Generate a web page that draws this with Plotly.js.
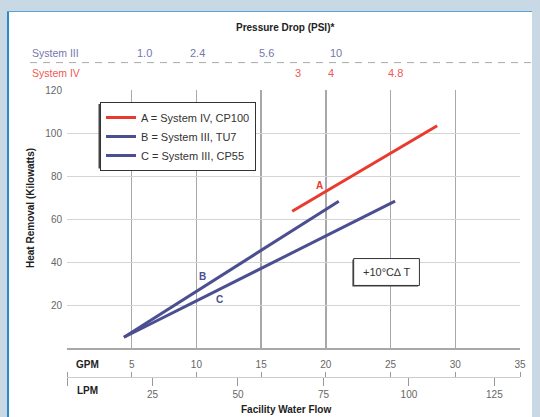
<!DOCTYPE html>
<html>
<head>
<meta charset="utf-8">
<script src="https://cdn.plot.ly/plotly-3.0.1.min.js"></script>
<style>html,body{margin:0;padding:0;background:#c8d8e4;}#chart{width:540px;height:417px;}</style>
</head>
<body>
<div id="chart"></div>
<script>
// ---- data ----
const seriesNames = ["A = System IV, CP100", "B = System III, TU7", "C = System III, CP55"];
const seriesLetters = ["A", "B", "C"];
const aFlowGPM = [17.4, 28.6];
const aHeatKW = [63.6, 103.4];
const bFlowGPM = [4.4, 21.0];
const bHeatKW = [5.0, 68.3];
const cFlowGPM = [4.4, 25.35];
const cHeatKW = [5.0, 68.3];
const gpmTicks = [0, 5, 10, 15, 20, 25, 30, 35];
const lpmTicks = [0, 25, 50, 75, 100, 125];
const heatTicks = [0, 20, 40, 60, 80, 100, 120];
const sys3FlowGPM = [5.96, 10.12, 15.43, 20.77];
const sys3PSI = ["1.0", "2.4", "5.6", "10"];
const sys4FlowGPM = [17.87, 20.4, 25.38];
const sys4PSI = ["3", "4", "4.8"];
const LPM_PER_GPM = 3.78541;

// ---- layout helpers (pixel -> paper) ----
const L = 67, R = 520, T = 90, B = 400;
const W = R - L, H = B - T;
const px = p => (p - L) / W;
const py = p => (B - p) / H;

const FONT = "'Liberation Sans', Arial, sans-serif";
const RED = "#ea3a2e", BLUE = "#4b4f91";
const S3C = "#7478aa", S4C = "#ee5a55";

const traces = [
  {x: aFlowGPM, y: aHeatKW, name: seriesNames[0], mode: "lines", line: {color: RED, width: 3}, xaxis: "x", yaxis: "y"},
  {x: bFlowGPM, y: bHeatKW, name: seriesNames[1], mode: "lines", line: {color: BLUE, width: 3}, xaxis: "x", yaxis: "y"},
  {x: cFlowGPM, y: cHeatKW, name: seriesNames[2], mode: "lines", line: {color: BLUE, width: 3}, xaxis: "x", yaxis: "y"},
  {x: [], y: [], xaxis: "x2", yaxis: "y", showlegend: false, hoverinfo: "skip"},
  {x: [], y: [], xaxis: "x3", yaxis: "y", showlegend: false, hoverinfo: "skip"}
];

const annotations = [];
const bold = (t) => "<b>" + t + "</b>";
function ann(o) { annotations.push(Object.assign({showarrow: false, xanchor: "center", yanchor: "middle"}, o)); }
ann({text: bold("Pressure Drop (PSI)*"), xref: "paper", yref: "paper", x: px(284.5), y: py(27.5), font: {family: FONT, size: 10, color: "#222"}});
ann({text: "System III", xref: "paper", yref: "paper", x: px(30), y: py(52.6), xanchor: "left", font: {family: FONT, size: 10.5, color: S3C}});
ann({text: "System IV", xref: "paper", yref: "paper", x: px(30), y: py(73.4), xanchor: "left", font: {family: FONT, size: 10.5, color: S4C}});
sys3FlowGPM.forEach((f, i) => ann({text: sys3PSI[i], xref: "x", yref: "paper", x: f, y: py(52.6), font: {family: FONT, size: 11, color: S3C}}));
sys4FlowGPM.forEach((f, i) => ann({text: sys4PSI[i], xref: "x", yref: "paper", x: f, y: py(73.4), font: {family: FONT, size: 11, color: S4C}}));
ann({text: bold("Heat Removal (Kilowatts)"), xref: "paper", yref: "paper", x: px(30), y: py(208), textangle: -90, font: {family: FONT, size: 10, color: "#222"}});
ann({text: bold("GPM"), xref: "paper", yref: "paper", x: px(87), y: py(364), font: {family: FONT, size: 10, color: "#222"}});
ann({text: bold("LPM"), xref: "paper", yref: "paper", x: px(87), y: py(390.5), font: {family: FONT, size: 10, color: "#222"}});
ann({text: bold("Facility Water Flow"), xref: "paper", yref: "paper", x: px(285.5), y: py(409.5), font: {family: FONT, size: 10, color: "#222"}});
// series letters next to their lines
const letterX = [19.5, 10.48, 11.77], letterY = [75.7, 33.2, 22.7];
seriesLetters.forEach((s, i) => ann({text: bold(s), xref: "x", yref: "y", x: letterX[i], y: letterY[i], font: {family: FONT, size: 10, color: i === 0 ? RED : BLUE}}));
ann({text: "+10°C∆ T", xref: "x", yref: "y", x: 24.7, y: 35.3, font: {family: FONT, size: 11, color: "#333"}});

const shapes = [
  {type: "rect", xref: "paper", yref: "paper", x0: px(7), x1: px(532), y0: py(425), y1: py(11), fillcolor: "#ffffff", line: {width: 0}, layer: "below"},
  {type: "line", xref: "paper", yref: "paper", x0: px(8), x1: px(8), y0: py(425), y1: py(11), line: {color: "#2a8bc4", width: 2}, layer: "below"},
  {type: "line", xref: "paper", yref: "paper", x0: px(7), x1: px(532), y0: py(11.5), y1: py(11.5), line: {color: "#5aa5d0", width: 1}, layer: "below"},
  {type: "line", xref: "paper", yref: "paper", x0: px(30), x1: px(535), y0: py(62.6), y1: py(62.6), line: {color: "#aaaaaa", width: 1, dash: "7px,6px"}},
  // drop shadow + box for the delta-T note
  {type: "rect", xref: "x", yref: "y", x0: 22.15 - 0.1, x1: 27.23 - 0.1, y0: 29.1 - 0.5, y1: 41.6 - 0.5, fillcolor: "#444", line: {width: 0}},
  {type: "rect", xref: "x", yref: "y", x0: 22.15, x1: 27.23, y0: 29.1, y1: 41.6, fillcolor: "#ffffff", line: {color: "#333", width: 1}},
  // drop shadow behind the legend box
  {type: "rect", xref: "paper", yref: "paper", x0: px(98.5), x1: px(256), y0: py(168.5), y1: py(104), fillcolor: "#444", line: {width: 0}}
];

const yDomBottom = py(348);
const axisPos = py(376.5);

const layout = {
  width: 540, height: 417,
  margin: {l: L, r: 540 - R, t: T, b: 417 - B, pad: 0},
  paper_bgcolor: "#c8d8e4",
  plot_bgcolor: "rgba(0,0,0,0)",
  font: {family: FONT, size: 10, color: "#666"},
  showlegend: true,
  legend: {x: px(100), y: py(102), xanchor: "left", yanchor: "top", bgcolor: "#ffffff", bordercolor: "#333", borderwidth: 1, font: {family: FONT, size: 11, color: "#333"}},
  xaxis: {range: [0, 35], tickvals: gpmTicks, showticklabels: false, ticks: "", showgrid: true, gridcolor: "#a8a8a8", gridwidth: 1.5, zeroline: false, showline: true, linecolor: "#a8a8a8", linewidth: 1.5, anchor: "y", fixedrange: true},
  yaxis: {range: [0, 120], domain: [yDomBottom, 1], tickvals: heatTicks, ticktext: heatTicks.map(v => v === 0 ? "" : String(v)), ticks: "", showgrid: true, gridcolor: "#d4d4d4", gridwidth: 1, zeroline: false, showline: false, ticklabelstandoff: 4, tickfont: {family: FONT, size: 10, color: "#666"}},
  xaxis2: {overlaying: "x", anchor: "free", position: axisPos, side: "top", range: [0, 35], tickvals: gpmTicks, ticktext: gpmTicks.map(v => v === 0 ? "" : String(v)), ticks: "outside", ticklen: 5, tickcolor: "#999", showgrid: false, zeroline: false, showline: false, tickfont: {family: FONT, size: 10, color: "#666"}},
  xaxis3: {overlaying: "x", anchor: "free", position: axisPos, side: "bottom", range: [0, 35 * LPM_PER_GPM], tickvals: lpmTicks, ticktext: lpmTicks.map(v => v === 0 ? "" : String(v)), ticks: "outside", ticklen: 8, tickcolor: "#999", showgrid: false, zeroline: false, showline: true, linecolor: "#cccccc", linewidth: 1.5, tickfont: {family: FONT, size: 10, color: "#666"}},
  annotations: annotations,
  shapes: shapes
};

Plotly.newPlot("chart", traces, layout, {displayModeBar: false, staticPlot: true});
</script>
</body>
</html>
